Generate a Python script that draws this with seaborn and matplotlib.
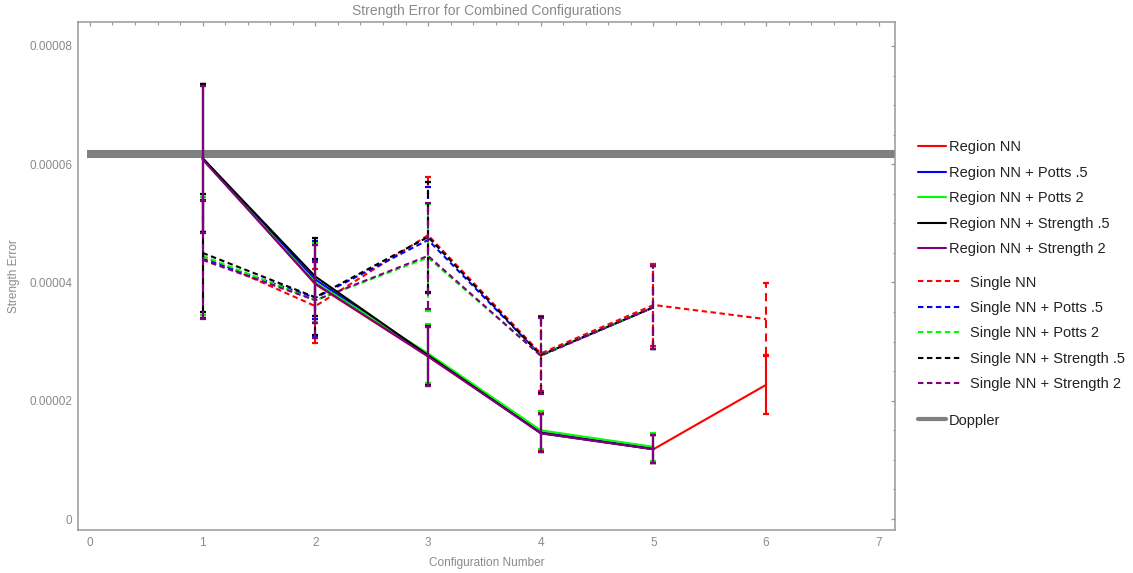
import numpy as np
import pandas as pd
import matplotlib
matplotlib.use("Agg")
import matplotlib.pyplot as plt
from matplotlib.lines import Line2D
from matplotlib.ticker import MultipleLocator, FuncFormatter
import seaborn as sns

# ---------------- data (values in units of 1e-5) ----------------
configs_5 = [1, 2, 3, 4, 5]
configs_6 = [1, 2, 3, 4, 5, 6]

region_nn = [6.10, 3.97, 2.75, 1.47, 1.18, 2.27]
region_nn_err = [1.25, 0.66, 0.50, 0.32, 0.24, 0.49]
region_potts05 = [6.10, 4.05, 2.77, 1.46, 1.19]
region_potts05_err = [1.25, 0.66, 0.50, 0.32, 0.24]
region_potts2 = [6.08, 4.00, 2.80, 1.50, 1.22]
region_potts2_err = [1.25, 0.66, 0.50, 0.32, 0.24]
region_str05 = [6.10, 4.10, 2.77, 1.45, 1.18]
region_str05_err = [1.25, 0.66, 0.50, 0.32, 0.24]
region_str2 = [6.08, 3.98, 2.75, 1.45, 1.18]
region_str2_err = [1.25, 0.66, 0.50, 0.32, 0.24]

single_nn = [4.45, 3.60, 4.80, 2.80, 3.62, 3.38]
single_nn_err = [1.00, 0.62, 0.98, 0.64, 0.70, 0.61]
single_potts05 = [4.40, 3.74, 4.72, 2.77, 3.58]
single_potts05_err = [1.00, 0.64, 0.90, 0.64, 0.70]
single_potts2 = [4.45, 3.70, 4.42, 2.77, 3.58]
single_potts2_err = [1.00, 0.64, 0.90, 0.64, 0.70]
single_str05 = [4.50, 3.75, 4.77, 2.77, 3.58]
single_str05_err = [1.00, 0.64, 0.93, 0.64, 0.70]
single_str2 = [4.38, 3.70, 4.45, 2.76, 3.58]
single_str2_err = [1.00, 0.64, 0.90, 0.64, 0.70]

doppler = 6.17

region_labels = ["Region NN", "Region NN + Potts .5", "Region NN + Potts 2",
                 "Region NN + Strength .5", "Region NN + Strength 2"]
single_labels = ["Single NN", "Single NN + Potts .5", "Single NN + Potts 2",
                 "Single NN + Strength .5", "Single NN + Strength 2"]
doppler_label = "Doppler"
series_colors = ["#ff0000", "#0000ff", "#00ff00", "#000000", "#800080"]
doppler_color = "#808080"

SCALE = 1e-5

region_series = [
    (configs_6, region_nn, region_nn_err),
    (configs_5, region_potts05, region_potts05_err),
    (configs_5, region_potts2, region_potts2_err),
    (configs_5, region_str05, region_str05_err),
    (configs_5, region_str2, region_str2_err),
]
single_series = [
    (configs_6, single_nn, single_nn_err),
    (configs_5, single_potts05, single_potts05_err),
    (configs_5, single_potts2, single_potts2_err),
    (configs_5, single_str05, single_str05_err),
    (configs_5, single_str2, single_str2_err),
]

rows = []
for lab, (xs, ys, es) in zip(region_labels, region_series):
    for x, y, e in zip(xs, ys, es):
        rows.append(dict(config=x, value=y * SCALE, err=e * SCALE, series=lab, kind="Region"))
for lab, (xs, ys, es) in zip(single_labels, single_series):
    for x, y, e in zip(xs, ys, es):
        rows.append(dict(config=x, value=y * SCALE, err=e * SCALE, series=lab, kind="Single"))
df = pd.DataFrame(rows)

palette = {}
for lab, c in zip(region_labels, series_colors):
    palette[lab] = c
for lab, c in zip(single_labels, series_colors):
    palette[lab] = c

# ---------------- style ----------------
sns.set_style("white")
plt.rcParams["font.family"] = ["Liberation Sans", "DejaVu Sans"]
GRAY = "#8a8a8a"
FRAME = "#999999"
DASH = (2.6, 1.7)
LW = 1.5

fig = plt.figure(figsize=(11.33, 5.73), dpi=100)
ax = fig.add_axes([78 / 1133, 43 / 573, 817 / 1133, 508.5 / 573])

# Doppler reference line
ax.plot([-0.03, 7.3], [doppler * SCALE, doppler * SCALE], color=doppler_color,
        lw=5.8, solid_capstyle="butt", zorder=1)

# lines via seaborn
sns.lineplot(data=df, x="config", y="value", hue="series", style="kind",
             palette=palette, dashes={"Region": "", "Single": DASH},
             hue_order=single_labels + region_labels,
             linewidth=LW, legend=False, ax=ax, zorder=3, estimator=None, sort=True)

# error bars
def draw_err(sub, color, dashed, z):
    eb = ax.errorbar(sub["config"], sub["value"], yerr=sub["err"], fmt="none",
                     ecolor=color, elinewidth=LW, capsize=2.2, capthick=1.6, zorder=z)
    if dashed:
        for lc in eb[2]:
            lc.set_linestyle((0, DASH))
            lc.set_dashes([(0, (DASH[0] * LW, DASH[1] * LW))])

for i, (lab, c) in enumerate(zip(single_labels, series_colors)):
    draw_err(df[df["series"] == lab], c, True, 4 + i * 0.01)
for i, (lab, c) in enumerate(zip(region_labels, series_colors)):
    draw_err(df[df["series"] == lab], c, False, 5 + i * 0.01)

# ---------------- axes ----------------
ax.set_xlim(-0.106, 7.143)
ax.set_ylim(-0.186e-5, 8.414e-5)
ax.xaxis.set_major_locator(MultipleLocator(1))
ax.xaxis.set_minor_locator(MultipleLocator(0.2))
ax.yaxis.set_major_locator(MultipleLocator(2e-5))
ax.yaxis.set_minor_locator(MultipleLocator(0.5e-5))

def yfmt(v, pos):
    if abs(v) < 1e-12:
        return "0"
    return f"{v:.5f}"
ax.yaxis.set_major_formatter(FuncFormatter(yfmt))
ax.xaxis.set_major_formatter(FuncFormatter(lambda v, p: f"{int(round(v))}"))

for s in ax.spines.values():
    s.set_color(FRAME)
    s.set_linewidth(1.1)
ax.tick_params(which="both", direction="in", top=True, right=True, color=FRAME,
               labelcolor=GRAY, labelsize=8.5)
ax.tick_params(which="major", length=3.2, width=0.9, pad=4)
ax.tick_params(which="minor", length=1.8, width=0.8)
ax.tick_params(axis="x", which="major", pad=5)
ax.grid(False)

ax.set_title("Strength Error for Combined Configurations", fontsize=10, color=GRAY, pad=4.5)
ax.set_xlabel("Configuration Number", fontsize=8.5, color=GRAY)
ax.set_ylabel("Strength Error", fontsize=8.5, color=GRAY)
ax.xaxis.set_label_coords(0.5, -0.054)
ax.yaxis.set_label_coords(-0.071, 0.5)

# ---------------- legends ----------------
TXT = "#222222"
reg_handles = [Line2D([], [], color=c, lw=LW) for c in series_colors]
sin_handles = [Line2D([], [], color=c, lw=LW, linestyle=(0, DASH)) for c in series_colors]
dop_handles = [Line2D([], [], color=doppler_color, lw=3.0)]

common = dict(frameon=False, loc="upper left", borderpad=0, borderaxespad=0,
              fontsize=10.5, labelcolor=TXT, labelspacing=0.78)
leg1 = fig.legend(reg_handles, region_labels, bbox_to_anchor=(918 / 1133, 1 - 140.5 / 573),
                  handlelength=1.9, handletextpad=0.2, **common)
leg2 = fig.legend(sin_handles, single_labels, bbox_to_anchor=(918 / 1133, 1 - 275.5 / 573),
                  handlelength=3.0, handletextpad=0.6, **common)
leg3 = fig.legend(dop_handles, [doppler_label], bbox_to_anchor=(918 / 1133, 1 - 413.5 / 573),
                  handlelength=1.9, handletextpad=0.2, **common)

fig.savefig("out.png", dpi=100)
